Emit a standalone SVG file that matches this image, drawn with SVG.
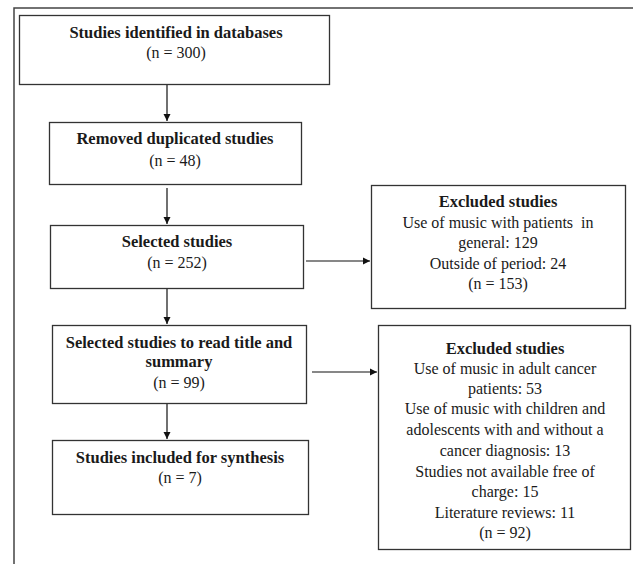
<svg xmlns="http://www.w3.org/2000/svg" width="633" height="564" viewBox="0 0 633 564">
<defs>
<marker id="ah" markerWidth="8" markerHeight="8" refX="7" refY="4" orient="auto" markerUnits="userSpaceOnUse">
<path d="M0,0.5 L7,4 L0,7.5 Z" fill="#111"/>
</marker>
<style>
.box{fill:#fff;stroke:#333;stroke-width:1.3}
.frame{fill:none;stroke:#444;stroke-width:1.5}
.t{font-family:"Liberation Serif","Times New Roman",serif;font-size:16px;fill:#1a1a1a;text-anchor:middle}
.b{font-weight:bold;font-size:16.5px}
.c{stroke:#111;stroke-width:1.2;fill:none;marker-end:url(#ah)}
</style>
</defs>
<rect width="633" height="564" fill="#fff"/>
<path class="frame" d="M14,564 L14,8 L633,8"/>
<g id="connectors">
<line class="c" x1="167" y1="85" x2="167" y2="121"/>
<line class="c" x1="167" y1="188" x2="167" y2="224"/>
<line class="c" x1="306" y1="261" x2="370" y2="261"/>
<line class="c" x1="167" y1="289" x2="167" y2="324"/>
<line class="c" x1="312" y1="372" x2="377" y2="372"/>
<line class="c" x1="167" y1="404" x2="167" y2="439"/>
</g>
<g id="n1">
<rect class="box" x="19.5" y="15.5" width="310" height="69"/>
<text class="t b" x="176" y="38">Studies identified in databases</text>
<text class="t" x="176" y="58">(n = 300)</text>
</g>
<g id="n2">
<rect class="box" x="49.5" y="122.5" width="252" height="62"/>
<text class="t b" x="175" y="144">Removed duplicated studies</text>
<text class="t" x="175" y="166">(n = 48)</text>
</g>
<g id="n3">
<rect class="box" x="50.5" y="225.5" width="253" height="63"/>
<text class="t b" x="177" y="247">Selected studies</text>
<text class="t" x="177" y="268">(n = 252)</text>
</g>
<g id="n4">
<rect class="box" x="52.5" y="325.5" width="254" height="78"/>
<text class="t b" x="179" y="348">Selected studies to read title and</text>
<text class="t b" x="179" y="367">summary</text>
<text class="t" x="179" y="388">(n = 99)</text>
</g>
<g id="n5">
<rect class="box" x="52.5" y="440.5" width="256" height="74"/>
<text class="t b" x="180" y="463">Studies included for synthesis</text>
<text class="t" x="180" y="483">(n = 7)</text>
</g>
<g id="ex1">
<rect class="box" x="371.5" y="185.5" width="254" height="123"/>
<text class="t b" x="498" y="207">Excluded studies</text>
<text class="t" x="498" y="228" xml:space="preserve">Use of music with patients  in</text>
<text class="t" x="498" y="248">general: 129</text>
<text class="t" x="498" y="269">Outside of period: 24</text>
<text class="t" x="498" y="289">(n = 153)</text>
</g>
<g id="ex2">
<rect class="box" x="378.5" y="325.5" width="252" height="224"/>
<text class="t b" x="505" y="354">Excluded studies</text>
<text class="t" x="505" y="374">Use of music in adult cancer</text>
<text class="t" x="505" y="394">patients: 53</text>
<text class="t" x="505" y="414">Use of music with children and</text>
<text class="t" x="505" y="435">adolescents with and without a</text>
<text class="t" x="505" y="456">cancer diagnosis: 13</text>
<text class="t" x="505" y="477">Studies not available free of</text>
<text class="t" x="505" y="497">charge: 15</text>
<text class="t" x="505" y="518">Literature reviews: 11</text>
<text class="t" x="505" y="538">(n = 92)</text>
</g>
</svg>
